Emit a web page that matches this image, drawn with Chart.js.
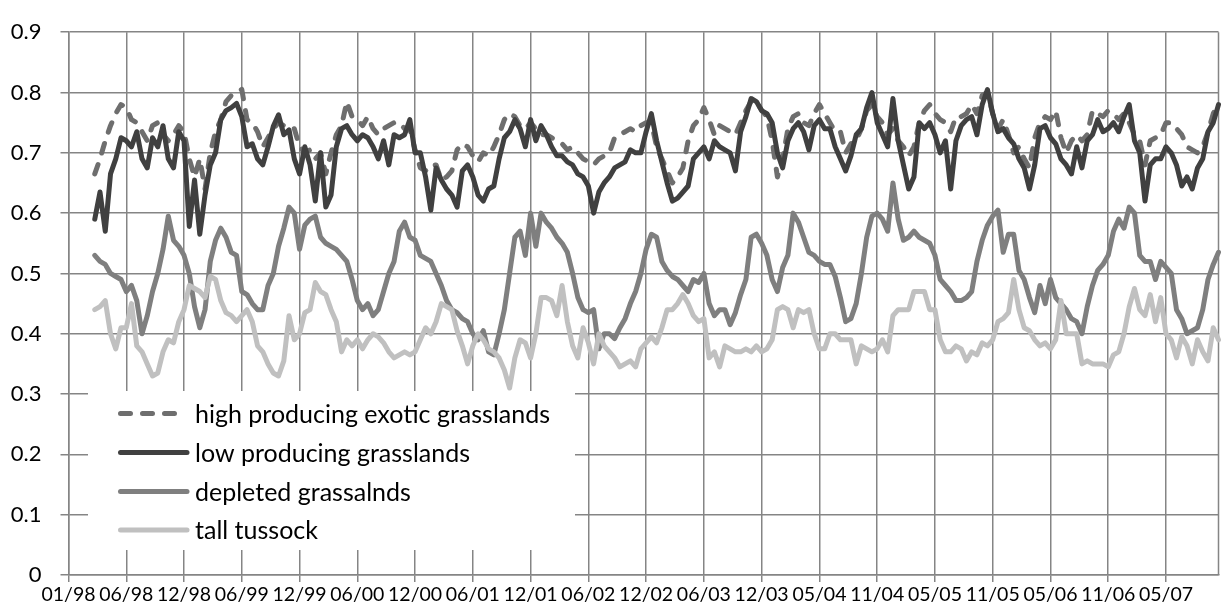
<!DOCTYPE html>
<html>
<head>
<meta charset="utf-8">
<script src="https://cdn.jsdelivr.net/npm/chart.js@4.4.0/dist/chart.umd.min.js"></script>
<style>
  html, body { margin: 0; padding: 0; background: #fff; }
  #wrap { width: 1227px; height: 611px; }
</style>
</head>
<body>
<div id="wrap"><canvas id="ndviChart" width="1227" height="611"></canvas></div>
<script>
// axis labels, one every 11 composites
const tickLabels = ['01/98', '06/98', '12/98', '06/99', '12/99', '06/00', '12/00', '06/01', '12/01', '06/02',
                    '12/02', '06/03', '12/03', '05/04', '11/04', '05/05', '11/05', '05/06', '11/06', '05/07'];
const ticksEvery = 11;
const emptySlots = 5;      // composites before the first record
const totalSlots = 220;

const seriesNames = ['high producing exotic grasslands', 'low producing grasslands', 'depleted grassalnds', 'tall tussock'];

const highProducing = [
  0.665, 0.69, 0.72, 0.745, 0.765, 0.78, 0.775, 0.755, 0.75, 0.735, 0.72, 0.745, 0.75, 0.73, 0.72, 0.73, 0.745, 0.735, 0.69, 0.66, 0.69, 0.64, 0.70, 0.735, 0.755, 0.785, 0.795,
  0.80, 0.805, 0.755, 0.75, 0.735, 0.71, 0.725, 0.74, 0.75, 0.745, 0.745, 0.74, 0.71, 0.70, 0.705, 0.69, 0.70, 0.665, 0.70, 0.73, 0.745, 0.785, 0.76, 0.755, 0.745, 0.76, 0.74,
  0.73, 0.74, 0.745, 0.75, 0.75, 0.74, 0.74, 0.705, 0.675, 0.67, 0.68, 0.68, 0.655, 0.66, 0.67, 0.705, 0.715, 0.71, 0.695, 0.685, 0.70, 0.695, 0.71, 0.73, 0.755, 0.765, 0.76, 0.745,
  0.74, 0.75, 0.74, 0.73, 0.73,
  0.725, 0.72, 0.715, 0.705, 0.71, 0.70, 0.69, 0.685, 0.68, 0.69, 0.695, 0.70, 0.725, 0.73, 0.735, 0.74, 0.735, 0.745, 0.75, 0.75, 0.71, 0.69, 0.67,
  0.65, 0.66, 0.675, 0.72, 0.745, 0.755, 0.775, 0.755, 0.73, 0.745, 0.74, 0.735, 0.73, 0.75, 0.77, 0.785, 0.785, 0.77, 0.76, 0.72, 0.66, 0.69, 0.74, 0.76, 0.765, 0.75, 0.745, 0.765,
  0.78, 0.765, 0.75, 0.735, 0.735, 0.70, 0.715, 0.72, 0.74, 0.77, 0.78, 0.76, 0.75, 0.73, 0.74, 0.72, 0.71, 0.695, 0.71, 0.75, 0.77, 0.78, 0.765, 0.755, 0.75, 0.735, 0.76,
  0.76, 0.765, 0.78, 0.765, 0.795, 0.80, 0.765, 0.74, 0.755, 0.73, 0.70, 0.71, 0.69, 0.675, 0.725, 0.75, 0.76, 0.755, 0.77, 0.725, 0.70, 0.72, 0.73, 0.72, 0.73, 0.77, 0.765,
  0.76, 0.77, 0.765, 0.755, 0.765, 0.75, 0.73, 0.72, 0.68, 0.72, 0.725, 0.73, 0.75, 0.75, 0.74, 0.73, 0.71, 0.705, 0.70, 0.71, 0.735, 0.765, 0.785
];

const lowProducing = [
  0.59, 0.635, 0.57, 0.665, 0.69, 0.725, 0.72, 0.71, 0.735, 0.69, 0.675, 0.725, 0.71, 0.745, 0.69, 0.675, 0.735, 0.72, 0.578, 0.655, 0.565, 0.63, 0.68, 0.70, 0.755, 0.77, 0.775,
  0.782, 0.76, 0.71, 0.715, 0.69, 0.68, 0.71, 0.744, 0.763, 0.73, 0.738, 0.69, 0.665, 0.71, 0.68, 0.62, 0.70, 0.61, 0.63, 0.71, 0.74, 0.745, 0.73, 0.72, 0.73, 0.725, 0.71,
  0.69, 0.72, 0.68, 0.73, 0.725, 0.73, 0.755, 0.70, 0.70, 0.66, 0.605, 0.675, 0.655, 0.64, 0.63, 0.61, 0.67, 0.68, 0.66, 0.63, 0.62, 0.64, 0.645, 0.69, 0.725, 0.735, 0.755, 0.74,
  0.71, 0.755, 0.72, 0.745, 0.73,
  0.71, 0.695, 0.695, 0.685, 0.68, 0.665, 0.66, 0.645, 0.60, 0.635, 0.65, 0.66, 0.675, 0.68, 0.685, 0.705, 0.70, 0.70, 0.735, 0.765, 0.72, 0.685, 0.65,
  0.62, 0.625, 0.635, 0.645, 0.69, 0.70, 0.71, 0.69, 0.72, 0.71, 0.705, 0.70, 0.67, 0.735, 0.76, 0.79, 0.785, 0.77, 0.765, 0.75, 0.70, 0.675, 0.72, 0.74, 0.75, 0.735, 0.705, 0.745,
  0.755, 0.74, 0.74, 0.71, 0.69, 0.67, 0.695, 0.73, 0.74, 0.775, 0.80, 0.75, 0.73, 0.71, 0.79, 0.72, 0.68, 0.64, 0.66, 0.75, 0.74, 0.75, 0.73, 0.70, 0.72, 0.64, 0.72,
  0.745, 0.755, 0.76, 0.73, 0.78, 0.805, 0.765, 0.735, 0.74, 0.725, 0.715, 0.69, 0.675, 0.64, 0.68, 0.74, 0.745, 0.725, 0.715, 0.69, 0.68, 0.665, 0.71, 0.675, 0.72, 0.73, 0.755,
  0.735, 0.74, 0.75, 0.735, 0.76, 0.78, 0.72, 0.70, 0.62, 0.68, 0.69, 0.69, 0.71, 0.70, 0.68, 0.645, 0.66, 0.64, 0.675, 0.69, 0.735, 0.75, 0.78
];

const depleted = [
  0.53, 0.52, 0.515, 0.50, 0.495, 0.49, 0.47, 0.48, 0.455, 0.40, 0.43, 0.47, 0.50, 0.54, 0.595, 0.555, 0.545, 0.53, 0.50, 0.445, 0.41, 0.44, 0.52, 0.555, 0.575, 0.56, 0.535,
  0.53, 0.47, 0.465, 0.45, 0.44, 0.44, 0.48, 0.50, 0.545, 0.575, 0.61, 0.60, 0.54, 0.58, 0.59, 0.595, 0.56, 0.55, 0.545, 0.54, 0.53, 0.52, 0.49, 0.455, 0.44, 0.45, 0.43,
  0.44, 0.47, 0.50, 0.52, 0.57, 0.585, 0.56, 0.555, 0.53, 0.525, 0.52, 0.50, 0.48, 0.455, 0.44, 0.435, 0.425, 0.42, 0.40, 0.39, 0.405, 0.37, 0.365, 0.40, 0.44, 0.50, 0.56, 0.57,
  0.53, 0.60, 0.545, 0.60, 0.585,
  0.575, 0.56, 0.55, 0.535, 0.50, 0.46, 0.44, 0.435, 0.44, 0.375, 0.40, 0.40, 0.392, 0.41, 0.425, 0.45, 0.47, 0.50, 0.54, 0.565, 0.56, 0.52, 0.505,
  0.495, 0.49, 0.48, 0.47, 0.49, 0.485, 0.50, 0.45, 0.43, 0.44, 0.44, 0.415, 0.435, 0.465, 0.49, 0.56, 0.565, 0.55, 0.53, 0.49, 0.47, 0.51, 0.53, 0.60, 0.585, 0.56, 0.535, 0.53,
  0.52, 0.515, 0.515, 0.495, 0.46, 0.42, 0.425, 0.45, 0.50, 0.56, 0.595, 0.60, 0.59, 0.57, 0.65, 0.59, 0.555, 0.56, 0.57, 0.56, 0.555, 0.55, 0.53, 0.49, 0.48, 0.47, 0.455,
  0.455, 0.46, 0.47, 0.52, 0.555, 0.58, 0.595, 0.605, 0.535, 0.565, 0.565, 0.505, 0.49, 0.46, 0.435, 0.48, 0.45, 0.49, 0.46, 0.45, 0.44, 0.425, 0.42, 0.40, 0.445, 0.48, 0.505,
  0.515, 0.53, 0.57, 0.59, 0.575, 0.61, 0.60, 0.53, 0.52, 0.52, 0.49, 0.52, 0.51, 0.50, 0.44, 0.425, 0.40, 0.405, 0.41, 0.44, 0.49, 0.515, 0.535
];

const tallTussock = [
  0.44, 0.445, 0.455, 0.40, 0.375, 0.41, 0.41, 0.45, 0.38, 0.37, 0.35, 0.33, 0.335, 0.37, 0.39, 0.385, 0.42, 0.44, 0.48, 0.475, 0.47, 0.46, 0.495, 0.49, 0.455, 0.435, 0.43,
  0.42, 0.43, 0.44, 0.42, 0.38, 0.37, 0.35, 0.335, 0.33, 0.355, 0.43, 0.39, 0.40, 0.435, 0.44, 0.485, 0.47, 0.465, 0.44, 0.42, 0.37, 0.39, 0.38, 0.39, 0.375, 0.39, 0.40,
  0.395, 0.385, 0.37, 0.36, 0.365, 0.37, 0.365, 0.37, 0.39, 0.41, 0.40, 0.42, 0.45, 0.445, 0.44, 0.405, 0.38, 0.35, 0.38, 0.40, 0.39, 0.375, 0.37, 0.36, 0.34, 0.31, 0.36, 0.39,
  0.385, 0.36, 0.40, 0.46, 0.46,
  0.455, 0.43, 0.48, 0.42, 0.38, 0.36, 0.41, 0.385, 0.35, 0.40, 0.38, 0.37, 0.36, 0.345, 0.35, 0.355, 0.345, 0.375, 0.385, 0.395, 0.385, 0.41, 0.44,
  0.44, 0.45, 0.465, 0.45, 0.43, 0.42, 0.425, 0.36, 0.37, 0.345, 0.38, 0.375, 0.37, 0.37, 0.375, 0.37, 0.38, 0.37, 0.375, 0.39, 0.44, 0.445, 0.44, 0.41, 0.44, 0.435, 0.44, 0.40,
  0.375, 0.375, 0.40, 0.40, 0.39, 0.39, 0.39, 0.35, 0.38, 0.375, 0.37, 0.375, 0.39, 0.37, 0.43, 0.44, 0.44, 0.44, 0.47, 0.47, 0.47, 0.44, 0.44, 0.39, 0.37, 0.37, 0.38,
  0.375, 0.355, 0.37, 0.365, 0.385, 0.38, 0.39, 0.42, 0.425, 0.435, 0.49, 0.44, 0.41, 0.405, 0.39, 0.38, 0.385, 0.375, 0.39, 0.455, 0.40, 0.40, 0.40, 0.35, 0.355, 0.35, 0.35,
  0.35, 0.345, 0.365, 0.37, 0.40, 0.445, 0.475, 0.44, 0.43, 0.465, 0.42, 0.46, 0.40, 0.39, 0.36, 0.395, 0.38, 0.35, 0.39, 0.37, 0.355, 0.41, 0.39
];

const gridGray = '#858585';
const fontFamily = 'Lato, "Open Sans", sans-serif';
const lineWidth = 5;

// category slots, only every 11th one carries a date
const slotLabels = [];
for (let i = 0; i < totalSlots; i++) {
  slotLabels.push(i % ticksEvery === 0 ? (tickLabels[i / ticksEvery] || '') : '');
}

function padSeries(values) {
  return Array(emptySlots).fill(null).concat(values);
}

const seriesStyle = [
  { data: highProducing, color: '#6e6e6e', dash: [10, 12], order: 4 },
  { data: lowProducing,  color: '#404040', dash: [],       order: 3 },
  { data: depleted,      color: '#7f7f7f', dash: [],       order: 2 },
  { data: tallTussock,   color: '#c0c0c0', dash: [],       order: 1 }
];

// white legend panel sitting inside the plot, lower left
const legendPanel = {
  id: 'legendPanel',
  beforeDatasetsDraw(chart) {
    const ctx = chart.ctx;
    const area = chart.chartArea;
    const boxLeft = area.left + 19.5;
    const boxTop = 391;
    ctx.save();
    ctx.fillStyle = '#ffffff';
    ctx.fillRect(boxLeft, boxTop, 487, 159);

    // right border of the plot
    ctx.strokeStyle = gridGray;
    ctx.lineWidth = 1.5;
    ctx.beginPath();
    ctx.moveTo(area.right, area.top);
    ctx.lineTo(area.right, area.bottom);
    ctx.stroke();

    const rowY = [413.5, 452.5, 491.5, 530];
    ctx.font = '25px ' + fontFamily;
    ctx.textBaseline = 'middle';
    seriesStyle.forEach(function(s, i) {
      ctx.strokeStyle = s.color;
      ctx.lineWidth = lineWidth;
      ctx.lineCap = 'round';
      ctx.setLineDash(s.dash);
      ctx.beginPath();
      ctx.moveTo(120.5, rowY[i]);
      ctx.lineTo(s.dash.length ? 180 : 187, rowY[i]);
      ctx.stroke();
      ctx.setLineDash([]);
      ctx.fillStyle = '#000000';
      ctx.fillText(seriesNames[i], 195, rowY[i] + 1);
    });
    ctx.restore();
  }
};

const ctx = document.getElementById('ndviChart').getContext('2d');
const chart = new Chart(ctx, {
  type: 'line',
  data: {
    labels: slotLabels,
    datasets: seriesStyle.map(function(s, i) {
      return {
        label: seriesNames[i],
        data: padSeries(s.data),
        borderColor: s.color,
        backgroundColor: s.color,
        borderWidth: lineWidth,
        borderDash: s.dash,
        borderCapStyle: 'round',
        borderJoinStyle: 'round',
        pointRadius: 0,
        tension: 0,
        fill: false,
        order: s.order
      };
    })
  },
  options: {
    responsive: false,
    animation: false,
    layout: { padding: { top: 20, right: 8.5, left: 0, bottom: 0 } },
    plugins: {
      legend: { display: false },
      tooltip: { enabled: false }
    },
    scales: {
      x: {
        grid: {
          color: c => c.index % ticksEvery === 0 ? gridGray : 'rgba(0,0,0,0)',
          tickColor: c => c.index % ticksEvery === 0 ? gridGray : 'rgba(0,0,0,0)',
          lineWidth: 1.5,
          tickLength: 7
        },
        border: { color: gridGray, width: 1.5 },
        ticks: {
          autoSkip: false,
          maxRotation: 0,
          minRotation: 0,
          padding: 1,
          color: '#000000',
          font: { family: fontFamily, size: 19.5 }
        },
        afterFit: function(scale) { scale.height = 36; }
      },
      y: {
        min: 0,
        max: 0.9,
        grid: { color: gridGray, tickColor: gridGray, lineWidth: 1.5, tickLength: 8 },
        border: { color: gridGray, width: 1.5 },
        ticks: {
          stepSize: 0.1,
          padding: 19,
          color: '#000000',
          font: { family: fontFamily, size: 22 },
          callback: v => +v.toFixed(1)
        },
        afterFit: function(scale) { scale.width = 68.5; }
      }
    }
  },
  plugins: [legendPanel]
});
</script>
</body>
</html>
